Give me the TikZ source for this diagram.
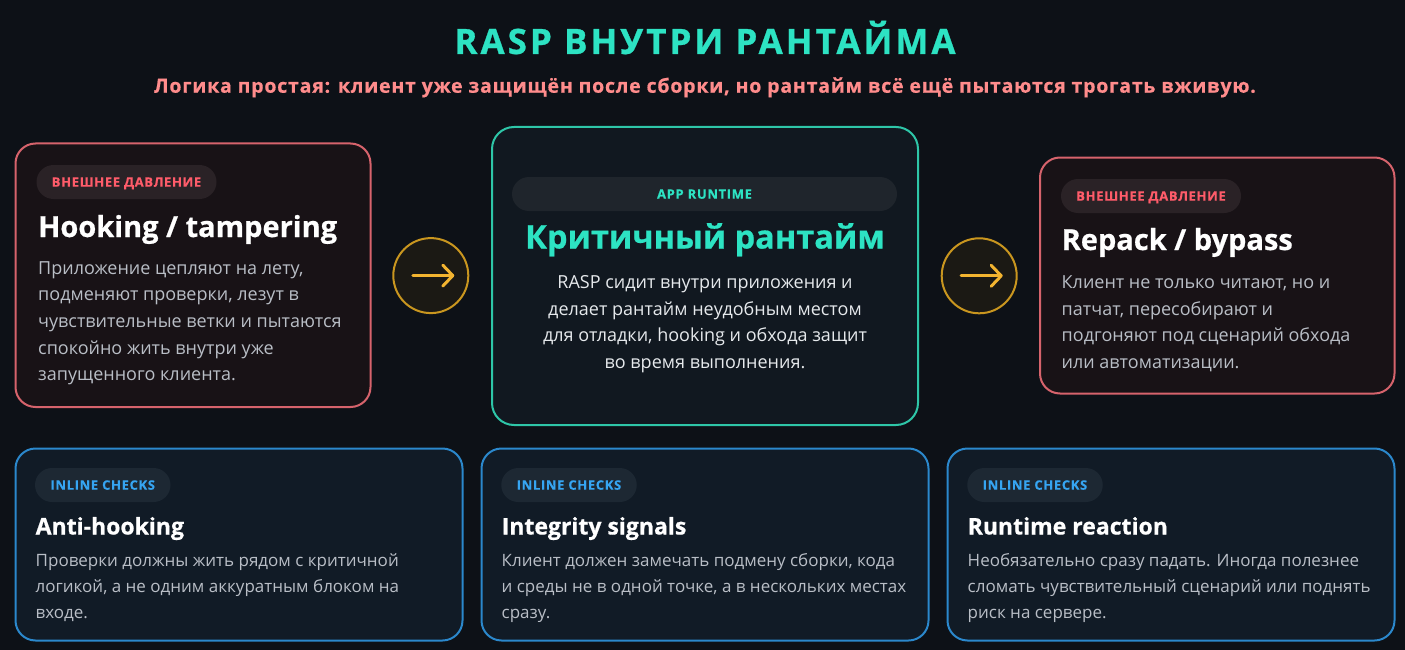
\documentclass[tikz,border=0pt]{standalone}
\usepackage{fontspec}
\setmainfont{Open Sans}
\newfontfamily\tagfont{Open Sans}[LetterSpace=5, BoldFeatures={FakeBold=0.4}]
\newfontfamily\headfont{Open Sans}[LetterSpace=8.6, BoldFeatures={FakeBold=0.8}]
\newfontfamily\subfont{Open Sans}[LetterSpace=4.1, BoldFeatures={FakeBold=0.6}]
\newfontfamily\heavyfont{Open Sans}[BoldFeatures={FakeBold=0.6}]
\usetikzlibrary{arrows.meta}
\definecolor{bg}{HTML}{0D1117}
\definecolor{teal}{HTML}{2DE3C3}
\definecolor{salmon}{HTML}{FF8C8C}
\definecolor{redborder}{HTML}{D6636C}
\definecolor{redfill}{HTML}{181216}
\definecolor{redpill}{HTML}{2A2226}
\definecolor{redtag}{HTML}{FF5C6A}
\definecolor{tealborder}{HTML}{2EC6A8}
\definecolor{tealfill}{HTML}{111820}
\definecolor{tealpill}{HTML}{1F252C}
\definecolor{blueborder}{HTML}{2B88CC}
\definecolor{bluefill}{HTML}{111B26}
\definecolor{bluepill}{HTML}{1D2833}
\definecolor{bluetag}{HTML}{36A5F2}
\definecolor{bodygrey}{HTML}{B9BEC6}
\definecolor{bodylight}{HTML}{E6E9EC}
\definecolor{goldborder}{HTML}{C9961F}
\definecolor{goldfill}{HTML}{1B1914}
\definecolor{goldarrow}{HTML}{F3B430}
\tikzset{
  card/.style={rounded corners=20pt, line width=2pt, inner sep=0pt},
  redcard/.style={card, draw=redborder, fill=redfill},
  tealcard/.style={card, draw=tealborder, fill=tealfill, rounded corners=22pt},
  bluecard/.style={card, draw=blueborder, fill=bluefill},
  pill/.style={rounded corners=17pt, inner sep=0pt, minimum height=34pt, text height=9.4pt, text depth=0pt,
    font=\tagfont\bfseries\fontsize{13}{13}\selectfont},
  redpillst/.style={pill, fill=redpill, text=redtag},
  tealpillst/.style={pill, fill=tealpill, text=teal},
  bluepillst/.style={pill, fill=bluepill, text=bluetag},
  cardtitle/.style={anchor=base west, inner sep=0pt, text=white, font=\heavyfont\bfseries\fontsize{29}{29}\selectfont},
  smalltitle/.style={anchor=base west, inner sep=0pt, text=white, font=\heavyfont\bfseries\fontsize{23}{23}\selectfont},
  bodyline/.style={anchor=base west, inner sep=0pt, text=bodygrey, font=\fontsize{18}{18}\selectfont},
  smallbody/.style={anchor=base west, inner sep=0pt, text=bodygrey, font=\fontsize{17}{17}\selectfont},
  centerbody/.style={anchor=base, inner sep=0pt, text=bodylight, font=\fontsize{18}{18}\selectfont},
  goldcircle/.style={circle, draw=goldborder, fill=goldfill, line width=2pt, minimum size=75pt, inner sep=0pt},
  goldarrowst/.style={draw=goldarrow, line width=3pt, line cap=round, line join=round},
}
\begin{document}
\begin{tikzpicture}[x=1pt,y=-1pt]
\fill[bg] (0,0) rectangle (1405,650);
\useasboundingbox (0,0) rectangle (1405,650);

% heading
\node[anchor=base, inner sep=0pt, text=teal, font=\headfont\bfseries\fontsize{35}{35}\selectfont] (head) at (705,54) {RASP ВНУТРИ РАНТАЙМА};
\node[anchor=base, inner sep=0pt, text=salmon, font=\subfont\bfseries\fontsize{19.5}{19.5}\selectfont] (sub) at (705,92.7) {Логика простая: клиент уже защищён после сборки, но рантайм всё ещё пытаются трогать вживую.};

% top cards
\node[redcard, minimum width=355pt, minimum height=263.5pt] (c1) at (193,275.25) {};
\node[tealcard, minimum width=426pt, minimum height=298pt] (c2) at (705,276) {};
\node[redcard, minimum width=354.5pt, minimum height=236pt] (c3) at (1217.25,275.5) {};

% card 1
\node[redpillst, minimum width=180pt] (p1) at (126.5,182) {ВНЕШНЕЕ ДАВЛЕНИЕ};
\node[cardtitle] (t1) at (38,237) {Hooking / tampering};
\node[bodyline] (b1a) at (38,274) {Приложение цепляют на лету,};
\node[bodyline] (b1b) at (38,300.7) {подменяют проверки, лезут в};
\node[bodyline] (b1c) at (38,327.3) {чувствительные ветки и пытаются};
\node[bodyline] (b1d) at (38,354) {спокойно жить внутри уже};
\node[bodyline] (b1e) at (38,380.7) {запущенного клиента.};

% card 2
\node[tealpillst, minimum width=385pt] (p2) at (704.5,194) {APP RUNTIME};
\node[anchor=base, inner sep=0pt, text=teal, font=\heavyfont\bfseries\fontsize{32.5}{32.5}\selectfont] (t2) at (705,248.5) {Критичный рантайм};
\node[centerbody] (b2a) at (705,288.3) {RASP сидит внутри приложения и};
\node[centerbody] (b2b) at (705,315) {делает рантайм неудобным местом};
\node[centerbody] (b2c) at (705,341.7) {для отладки, hooking и обхода защит};
\node[centerbody] (b2d) at (705,368.3) {во время выполнения.};

% card 3
\node[redpillst, minimum width=180pt] (p3) at (1151,196) {ВНЕШНЕЕ ДАВЛЕНИЕ};
\node[cardtitle] (t3) at (1061.5,250) {Repack / bypass};
\node[bodyline] (b3a) at (1061.5,288) {Клиент не только читают, но и};
\node[bodyline] (b3b) at (1061.5,315) {патчат, пересобирают и};
\node[bodyline] (b3c) at (1061.5,341.5) {подгоняют под сценарий обхода};
\node[bodyline] (b3d) at (1061.5,368) {или автоматизации.};

% arrows
\node[goldcircle] (g1) at (430.8,275.6) {};
\draw[goldarrowst] ([xshift=-18pt]g1.center) -- ([xshift=22pt]g1.center);
\draw[goldarrowst] ([xshift=12pt,yshift=-10.5pt]g1.center) -- ([xshift=22pt]g1.center) -- ([xshift=12pt,yshift=10.5pt]g1.center);
\node[goldcircle] (g2) at (979.2,275.8) {};
\draw[goldarrowst] ([xshift=-18pt]g2.center) -- ([xshift=22pt]g2.center);
\draw[goldarrowst] ([xshift=12pt,yshift=-10.5pt]g2.center) -- ([xshift=22pt]g2.center) -- ([xshift=12pt,yshift=10.5pt]g2.center);

% bottom cards
\node[bluecard, minimum width=447pt, minimum height=192pt] (d1) at (239,544.5) {};
\node[bluecard, minimum width=447pt, minimum height=192pt] (d2) at (705,544.5) {};
\node[bluecard, minimum width=447pt, minimum height=192pt] (d3) at (1171,544.5) {};

\node[bluepillst, minimum width=135.5pt] (q1) at (102.75,485) {INLINE CHECKS};
\node[smalltitle] (s1) at (35.5,534.5) {Anti-hooking};
\node[smallbody] (e1a) at (35.5,566.7) {Проверки должны жить рядом с критичной};
\node[smallbody] (e1b) at (35.5,592.7) {логикой, а не одним аккуратным блоком на};
\node[smallbody] (e1c) at (35.5,618) {входе.};

\node[bluepillst, minimum width=135.5pt] (q2) at (569,485) {INLINE CHECKS};
\node[smalltitle] (s2) at (501.5,534.5) {Integrity signals};
\node[smallbody] (e2a) at (501.5,566.7) {Клиент должен замечать подмену сборки, кода};
\node[smallbody] (e2b) at (501.5,592.7) {и среды не в одной точке, а в нескольких местах};
\node[smallbody] (e2c) at (501.5,618) {сразу.};

\node[bluepillst, minimum width=135.5pt] (q3) at (1035,485) {INLINE CHECKS};
\node[smalltitle] (s3) at (967.5,534.5) {Runtime reaction};
\node[smallbody] (e3a) at (967.5,566.7) {Необязательно сразу падать. Иногда полезнее};
\node[smallbody] (e3b) at (967.5,592.7) {сломать чувствительный сценарий или поднять};
\node[smallbody] (e3c) at (967.5,618) {риск на сервере.};
\end{tikzpicture}
\end{document}
